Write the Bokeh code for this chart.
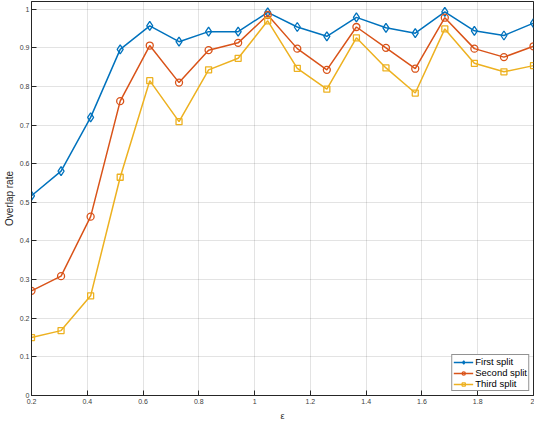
from bokeh.plotting import figure
from bokeh.models import (LinearAxis, Legend, LegendItem, FixedTicker, NumeralTickFormatter,
                          Range1d, CustomLabelingPolicy)
from bokeh.embed import file_html
from bokeh.resources import INLINE

eps = [0.2, 0.306, 0.412, 0.518, 0.624, 0.729, 0.835, 0.941, 1.047, 1.153,
       1.259, 1.365, 1.471, 1.576, 1.682, 1.788, 1.894, 2.0]
first_split = [0.517, 0.581, 0.720, 0.896, 0.957, 0.916, 0.942, 0.942, 0.992, 0.954,
               0.930, 0.979, 0.952, 0.938, 0.993, 0.944, 0.932, 0.964]
second_split = [0.271, 0.309, 0.463, 0.762, 0.906, 0.810, 0.894, 0.913, 0.985, 0.898,
                0.843, 0.954, 0.900, 0.846, 0.978, 0.898, 0.876, 0.904]
third_split = [0.150, 0.168, 0.258, 0.565, 0.815, 0.709, 0.843, 0.873, 0.970, 0.847,
               0.793, 0.926, 0.848, 0.783, 0.949, 0.860, 0.838, 0.854]
x_ticks = [0.2, 0.4, 0.6, 0.8, 1.0, 1.2, 1.4, 1.6, 1.8, 2.0]
y_ticks = [0, 0.1, 0.2, 0.3, 0.4, 0.5, 0.6, 0.7, 0.8, 0.9, 1.0]
x_min, x_max = 0.2, 2.0
y_min, y_max = 0.0, 1.02

FONT = "Liberation Sans"
AX = "#262626"

p = figure(width=534, height=423, output_backend="svg", toolbar_location=None,
           x_range=Range1d(x_min, x_max), y_range=Range1d(y_min, y_max),
           min_border_left=22, min_border_right=1, min_border_top=1, min_border_bottom=25)
p.outline_line_color = AX
p.outline_line_width = 1

no_labels = CustomLabelingPolicy(code="""
for (let i = 0; i < indices.size; i++) indices.unset(i)
return indices
""")

def style_axis(ax, ticks, show_labels=True):
    ax.ticker = FixedTicker(ticks=ticks)
    ax.formatter = NumeralTickFormatter(format="0.[0]")
    ax.axis_line_color = AX
    ax.major_tick_line_color = AX
    ax.major_tick_in = 5
    ax.major_tick_out = 0
    ax.minor_tick_line_color = None
    ax.major_label_text_font = FONT
    ax.major_label_text_color = "#404040"
    if show_labels:
        ax.major_label_text_font_size = "7px"
        ax.major_label_standoff = 3
    else:
        ax.major_label_text_font_size = "0px"
        ax.major_label_standoff = 0
        ax.major_label_policy = no_labels

style_axis(p.xaxis[0], x_ticks)
style_axis(p.yaxis[0], y_ticks)
p.yaxis.major_label_standoff = 2
p.xaxis.axis_label = "ε"
p.yaxis.axis_label = "Overlap rate"
for ax in (p.xaxis[0], p.yaxis[0]):
    ax.axis_label_text_font = FONT
    ax.axis_label_text_font_style = "normal"
    ax.axis_label_text_color = AX
p.xaxis.axis_label_text_font_size = "9px"
p.xaxis.axis_label_standoff = 4
p.yaxis.axis_label_text_font_size = "10px"
p.yaxis.axis_label_standoff = 2

right = LinearAxis(fixed_location=x_max)
style_axis(right, y_ticks, show_labels=False)
right.major_tick_in = 0
right.major_tick_out = 5
p.add_layout(right, "right")
top = LinearAxis(fixed_location=y_max)
style_axis(top, x_ticks, show_labels=False)
top.major_tick_in = 0
top.major_tick_out = 5
p.add_layout(top, "above")

p.xgrid.ticker = FixedTicker(ticks=x_ticks)
p.ygrid.ticker = FixedTicker(ticks=y_ticks)
p.grid.grid_line_color = AX
p.grid.grid_line_alpha = 0.13

series = [
    ("First split", first_split, "#0072BD", "diamond", 9),
    ("Second split", second_split, "#D95319", "circle", 7),
    ("Third split", third_split, "#EDB120", "square", 6),
]
items = []
for label, vals, col, marker, size in series:
    ln = p.line(eps, vals, line_color=col, line_width=1.5)
    sc = p.scatter(eps, vals, marker=marker, size=size, line_color=col,
                   fill_color=None, line_width=1.3)
    items.append(LegendItem(label=label, renderers=[ln, sc]))

legend = Legend(items=items, location="bottom_right")
legend.label_text_font = FONT
legend.label_text_font_size = "9.5px"
legend.label_text_color = "#000000"
legend.label_height = 8
legend.glyph_height = 8
legend.glyph_width = 20
legend.label_standoff = 2
legend.spacing = 0
legend.padding = 1
legend.margin = 4
legend.border_line_color = AX
legend.border_line_width = 1
legend.background_fill_color = "white"
legend.background_fill_alpha = 1
p.add_layout(legend)

open("out.html", "w").write(file_html(p, INLINE))
